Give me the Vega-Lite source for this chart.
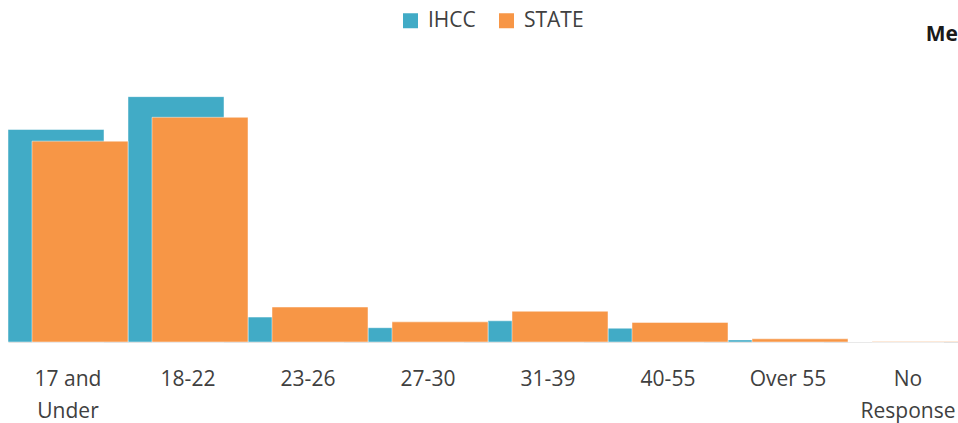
{
  "$schema": "https://vega.github.io/schema/vega-lite/v6.json",
  "autosize": {"type": "none"},
  "width": 960,
  "height": 292,
  "padding": {"left": 8, "top": 50, "right": 0, "bottom": 81},
  "background": "white",
  "title": {"text": "Me", "anchor": "end", "dx": -10, "dy": 66, "fontSize": 21, "fontWeight": "bold", "font": "Open Sans", "color": "#1a1a1a", "offset": 10, "baseline": "bottom", "frame": "group"},
  "data": {"values": [
    {"age": "17 and Under", "series": "IHCC", "pct": 40.1},
    {"age": "18-22", "series": "IHCC", "pct": 46.3},
    {"age": "23-26", "series": "IHCC", "pct": 4.7},
    {"age": "27-30", "series": "IHCC", "pct": 2.7},
    {"age": "31-39", "series": "IHCC", "pct": 4.0},
    {"age": "40-55", "series": "IHCC", "pct": 2.6},
    {"age": "Over 55", "series": "IHCC", "pct": 0.4},
    {"age": "No Response", "series": "IHCC", "pct": 0},
    {"age": "17 and Under", "series": "STATE", "pct": 37.9},
    {"age": "18-22", "series": "STATE", "pct": 42.4},
    {"age": "23-26", "series": "STATE", "pct": 6.6},
    {"age": "27-30", "series": "STATE", "pct": 3.8},
    {"age": "31-39", "series": "STATE", "pct": 5.8},
    {"age": "40-55", "series": "STATE", "pct": 3.7},
    {"age": "Over 55", "series": "STATE", "pct": 0.6},
    {"age": "No Response", "series": "STATE", "pct": 0.1}
  ]},
  "encoding": {
    "x": {"field": "age", "type": "nominal", "sort": null,
      "scale": {"paddingInner": 0, "paddingOuter": 0},
      "axis": {"title": null, "labelAngle": 0, "ticks": false, "domain": true, "domainColor": "#d9d9d9",
        "labelFont": "Open Sans", "labelFontSize": 21, "labelColor": "#404040", "labelPadding": 26,
        "labelLineHeight": 32, "labelBaseline": "top",
        "labelExpr": "datum.value == '17 and Under' ? ['17 and', 'Under'] : datum.value == 'No Response' ? ['No', 'Response'] : datum.value"}},
    "y": {"field": "pct", "type": "quantitative", "scale": {"domain": [0, 55.1]}, "axis": null},
    "color": {"field": "series", "type": "nominal",
      "scale": {"domain": ["IHCC", "STATE"], "range": ["#41ABC6", "#F79646"]},
      "legend": {"title": null, "orient": "none", "legendX": 392, "legendY": -40, "direction": "horizontal",
        "symbolType": "square", "symbolSize": 225, "symbolStrokeWidth": 0, "labelFont": "Open Sans",
        "labelFontSize": 21, "labelColor": "#404040", "columnPadding": 20, "symbolOffset": 0, "labelOffset": 7}}
  },
  "layer": [
    {"transform": [{"filter": "datum.series == 'IHCC'"}],
     "mark": {"type": "bar", "width": {"band": 0.8}, "xOffset": -12, "stroke": "white", "strokeWidth": 0.8, "strokeOpacity": 0.6}},
    {"transform": [{"filter": "datum.series == 'STATE'"}],
     "mark": {"type": "bar", "width": {"band": 0.8}, "xOffset": 12, "stroke": "white", "strokeWidth": 0.8, "strokeOpacity": 0.6}}
  ],
  "config": {"view": {"stroke": null}}
}
